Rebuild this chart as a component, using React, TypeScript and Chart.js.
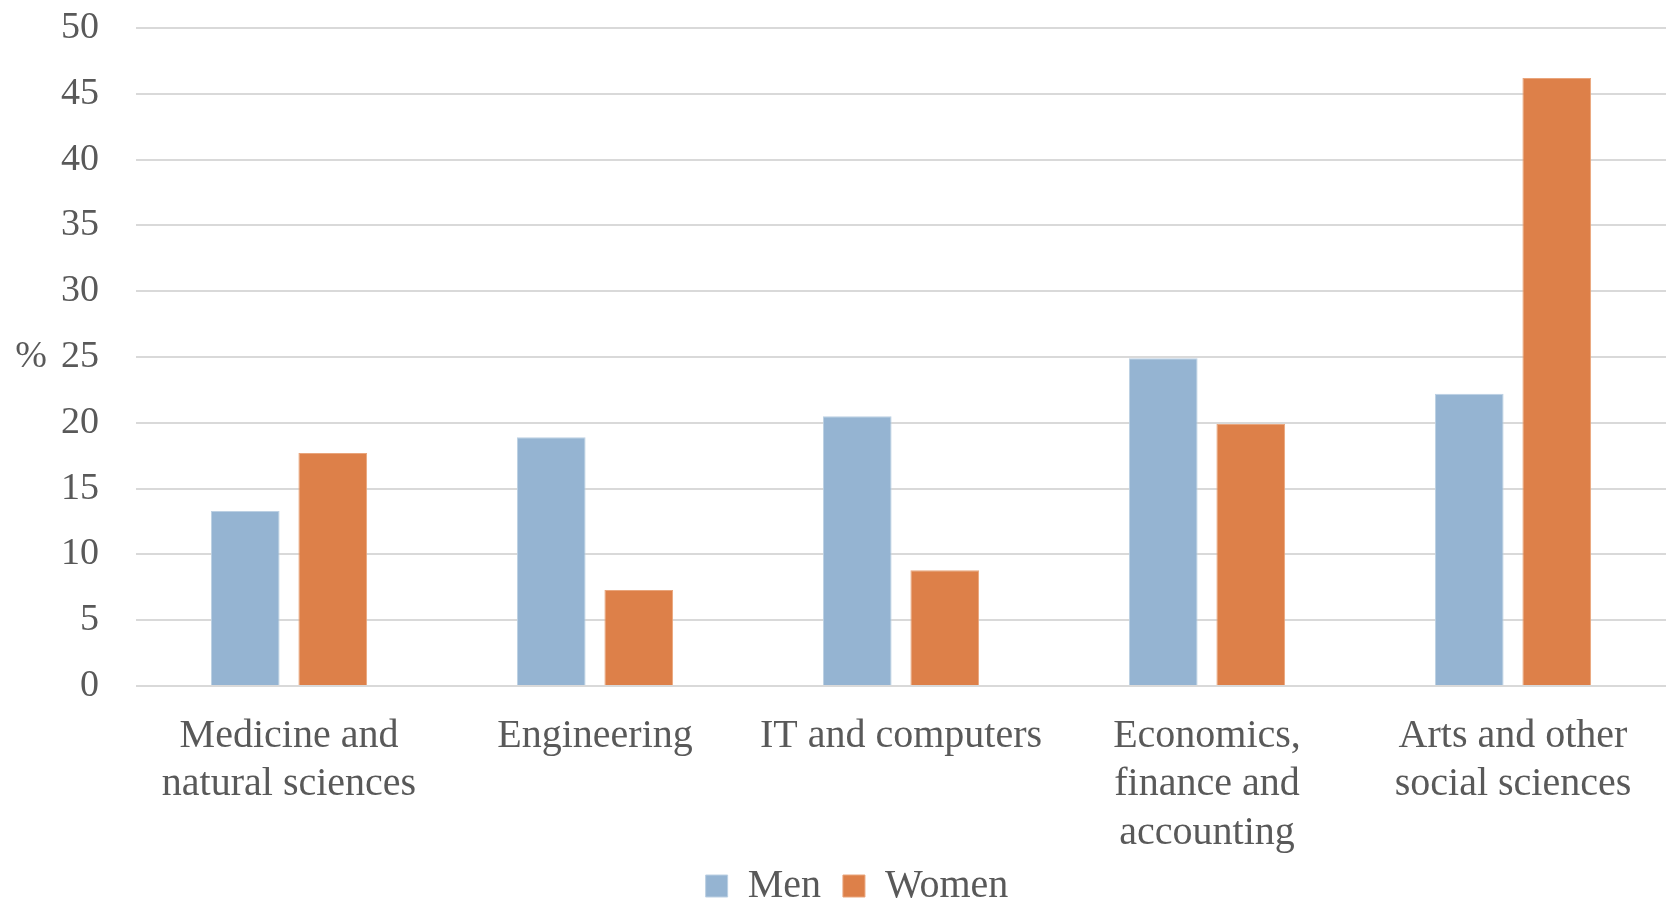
import React, { useEffect, useRef } from "react";
import { Chart, registerables } from "chart.js";

Chart.register(...registerables);

// Fields of study (multi-line labels as drawn under the axis)
const categories: string[][] = [
  ["Medicine and", "natural sciences"],
  ["Engineering"],
  ["IT and computers"],
  ["Economics,", "finance and", "accounting"],
  ["Arts and other", "social sciences"],
];

// Share of graduates by field, in %
const menValues: number[] = [13.3, 18.9, 20.5, 24.9, 22.2];
const womenValues: number[] = [17.7, 7.3, 8.8, 19.9, 46.2];

const yMin = 0;
const yMax = 50;
const yStep = 5;
const yUnit = "%";

const FONT = "'Liberation Serif', 'Times New Roman', serif";
const TEXT = "#595959";
const GRID = "#D9D9D9";
const MEN = "#95B4D2";
const WOMEN = "#DD8049";

// "%" unit written to the left of the value axis; legend nudged into place
const unitLabel = {
  id: "unitLabel",
  afterLayout(chart: any) {
    const lg = chart.legend;
    if (lg) {
      lg.left += 24;
      lg.right += 24;
      lg.top -= 16;
      lg.bottom -= 16;
    }
  },
  afterDraw(chart: Chart) {
    const { ctx, chartArea } = chart;
    ctx.save();
    ctx.font = `38px ${FONT}`;
    ctx.fillStyle = TEXT;
    ctx.textAlign = "center";
    ctx.textBaseline = "middle";
    ctx.fillText(yUnit, 31, (chartArea.top + chartArea.bottom) / 2);
    ctx.restore();
  },
};

export default function App() {
  const canvasRef = useRef<HTMLCanvasElement | null>(null);

  useEffect(() => {
    document.body.style.margin = "0";
    const canvas = canvasRef.current;
    if (!canvas) return;
    const chart = new Chart(canvas, {
      type: "bar",
      data: {
        labels: categories,
        datasets: [
          {
            label: "Men",
            data: menValues,
            backgroundColor: MEN,
            borderColor: "#BCD0E3",
            borderWidth: 1,
            categoryPercentage: 0.572,
            barPercentage: 0.785,
          },
          {
            label: "Women",
            data: womenValues,
            backgroundColor: WOMEN,
            borderColor: "#E9A57C",
            borderWidth: 1,
            categoryPercentage: 0.572,
            barPercentage: 0.785,
          },
        ],
      },
      options: {
        animation: false,
        responsive: false,
        maintainAspectRatio: false,
        layout: { padding: { top: 28, left: 0, right: 0, bottom: -30 } },
        plugins: {
          tooltip: { enabled: false },
          legend: {
            position: "bottom",
            labels: {
              boxWidth: 22,
              boxHeight: 22,
              padding: 22,
              color: TEXT,
              font: { family: FONT, size: 40 },
            },
          },
        },
        scales: {
          x: {
            grid: { display: false },
            border: { display: false },
            ticks: {
              color: TEXT,
              font: { family: FONT, size: 40, lineHeight: 1.21 },
              padding: 18,
              autoSkip: false,
              maxRotation: 0,
              minRotation: 0,
            },
            afterFit(scale: any) {
              scale.height = 174;
            },
          },
          y: {
            min: yMin,
            max: yMax,
            grid: { color: GRID, lineWidth: 2, drawTicks: false },
            border: { display: false },
            ticks: {
              stepSize: yStep,
              color: TEXT,
              font: { family: FONT, size: 38 },
              padding: 37,
            },
            afterFit(scale: any) {
              scale.width = 136;
              scale.paddingTop = 0;
              scale.paddingBottom = 0;
            },
          },
        },
      },
      plugins: [unitLabel],
    });
    return () => chart.destroy();
  }, []);

  return (
    <div style={{ position: "absolute", left: 0, top: 0, width: 1666, height: 902 }}>
      <canvas ref={canvasRef} width={1666} height={902} />
    </div>
  );
}
